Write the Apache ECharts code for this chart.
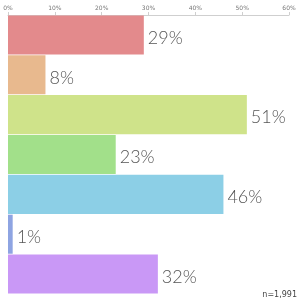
<!DOCTYPE html>
<html><head><meta charset="utf-8">
<script src="https://cdn.jsdelivr.net/npm/echarts@6/dist/echarts.min.js"></script>
<style>html,body{margin:0;padding:0;background:#fff}#c{width:300px;height:300px}</style>
</head><body><div id="c"></div>
<script>
const categories = ['A','B','C','D','E','F','G'];
const values = [29, 8, 51, 23, 46, 1, 32];
const colors = ['#e38a8c','#e8b98e','#cfe38a','#a2e08a','#8ccfe6','#8ea4e2','#c998f6'];
const tickLabels = ['0%','10%','20%','30%','40%','50%','60%'];
const note = 'n=1,991';

const chart = echarts.init(document.getElementById('c'), null, {renderer:'canvas'});
chart.setOption({
  animation:false,
  grid:{left:8,right:11,top:15,bottom:6,containLabel:false},
  xAxis:{type:'value',position:'top',min:0,max:60,interval:10,
    axisLine:{show:true,lineStyle:{color:'#cfcfcf',width:1}},
    axisTick:{show:true,length:3,lineStyle:{color:'#cfcfcf'}},
    splitLine:{show:false},
    axisLabel:{formatter:(v)=>tickLabels[v/10],fontSize:6,color:'#777',margin:4,fontFamily:'DejaVu Sans'}},
  yAxis:{type:'category',data:categories,inverse:true,show:false},
  series:[{type:'bar',data:values.map((v,i)=>({value:v,itemStyle:{color:colors[i]}})),
    barCategoryGap:'2%',
    label:{show:true,position:'right',distance:4,offset:[0,3],formatter:'{c}%',fontSize:18,color:'#555',fontFamily:'Lato',fontWeight:300}}],
  graphic:[{type:'text',right:3,bottom:1,style:{text:note,fontSize:8,fill:'#444',fontFamily:'DejaVu Sans'}}]
});
</script></body></html>
